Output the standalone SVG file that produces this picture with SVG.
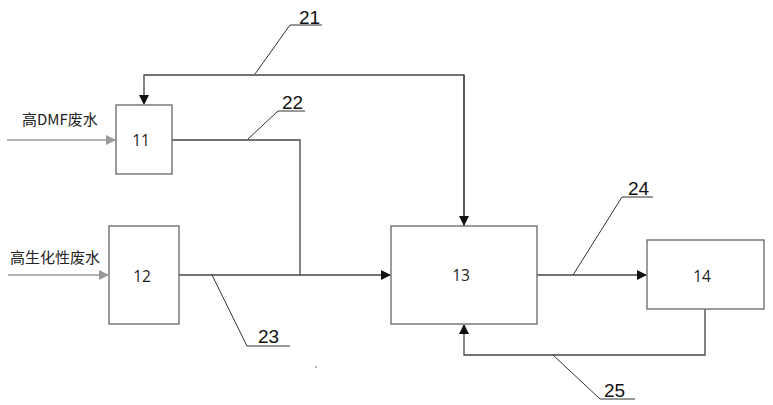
<svg xmlns="http://www.w3.org/2000/svg" width="773" height="405" viewBox="0 0 773 405">
<defs>
<marker id="ah" markerWidth="10" markerHeight="10" refX="9" refY="5" orient="auto" markerUnits="userSpaceOnUse"><path d="M0,0 L10,5 L0,10 Z" fill="#111"/></marker>
<marker id="ahg" markerWidth="10" markerHeight="10" refX="9" refY="5" orient="auto" markerUnits="userSpaceOnUse"><path d="M0,0 L10,5 L0,10 Z" fill="#999"/></marker>
<style>
.box{fill:#fff;stroke:#666;stroke-width:1.3}
.ln{fill:none;stroke:#444;stroke-width:1.3}
.gl{fill:none;stroke:#999;stroke-width:1.3}
.ld{fill:none;stroke:#333;stroke-width:1}
.nt{font-family:"Open Sans","Noto Sans",sans-serif;font-size:15.5px;fill:#222;text-anchor:middle}
.num{font-family:"Liberation Sans",Arial,sans-serif;font-size:19px;fill:#111}
.cn{font-family:"Noto Sans CJK SC","Noto Sans",sans-serif;font-size:15px;fill:#222}
</style>
</defs>
<g id="connectors">
<path class="gl" d="M7,140 H115" marker-end="url(#ahg)"/>
<path class="gl" d="M8,275 H108" marker-end="url(#ahg)"/>
<path class="ln" d="M464,226 V75 H144 V104" marker-end="url(#ah)"/>
<path class="ln" d="M464,75 V225" marker-end="url(#ah)"/>
<path class="ln" d="M172,140 H300 V275"/>
<path class="ln" d="M179,275 H390" marker-end="url(#ah)"/>
<path class="ln" d="M537,275 H646" marker-end="url(#ah)"/>
<path class="ln" d="M705,309 V355 H464 V325" marker-end="url(#ah)"/>
</g>
<g id="leaders">
<path class="ld" d="M255,74 L290,25 H322"/>
<path class="ld" d="M248,139 L278,111 H305"/>
<path class="ld" d="M212,275 L247,346 H290"/>
<path class="ld" d="M573,275 L622,197 H653"/>
<path class="ld" d="M553,355 L600,399 H635"/>
<text class="num" x="299" y="24">21</text>
<text class="num" x="282" y="109">22</text>
<text class="num" x="258" y="343">23</text>
<text class="num" x="628" y="195">24</text>
<text class="num" x="604" y="397">25</text>
<circle cx="316" cy="367" r="0.8" fill="#555"/>
</g>
<g id="in1"><text class="cn" x="22" y="125">高DMF废水</text></g>
<g id="in2"><text class="cn" x="10" y="263">高生化性废水</text></g>
<g id="n11"><rect class="box" x="116" y="105" width="56" height="69"/><text class="nt" x="141" y="146">11</text></g>
<g id="n12"><rect class="box" x="109" y="226" width="70" height="98"/><text class="nt" x="142" y="282">12</text></g>
<g id="n13"><rect class="box" x="391" y="226" width="146" height="98"/><text class="nt" x="461" y="281">13</text></g>
<g id="n14"><rect class="box" x="647" y="240" width="117" height="69"/><text class="nt" x="702" y="282">14</text></g>
</svg>
